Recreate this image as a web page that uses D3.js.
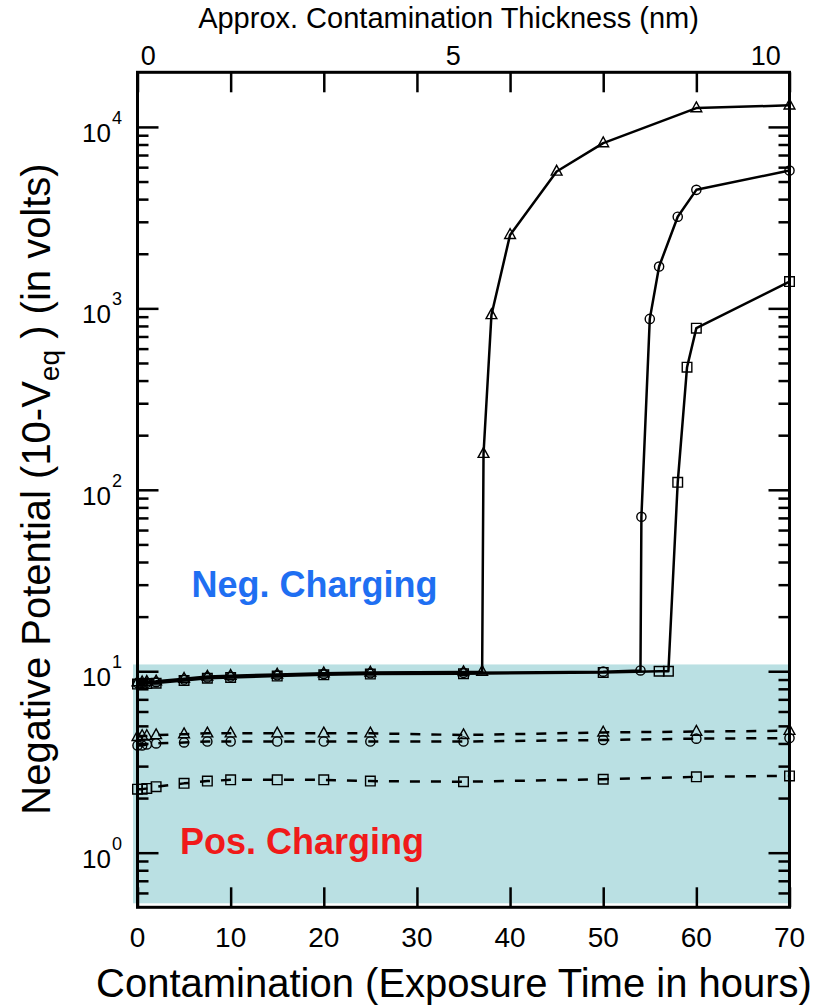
<!DOCTYPE html>
<html><head><meta charset="utf-8">
<script src="https://cdn.jsdelivr.net/npm/d3@7"></script>
<style>
body{margin:0;background:#fff;}
svg{display:block;font-family:"Liberation Sans",Arial,Helvetica,sans-serif;}
</style>
</head><body>
<svg id="chart" width="823" height="1007"></svg>
<script>
// ---------------- data ----------------
const xTickValues = [0, 10, 20, 30, 40, 50, 60, 70];
const xTickLabels = ["0", "10", "20", "30", "40", "50", "60", "70"];
const yMajorValues = [1, 10, 100, 1000, 10000];
const yMajorExponents = ["0", "1", "2", "3", "4"];
const topTickValues = [0, 5, 10];
const topTickLabels = ["0", "5", "10"];

// solid series (exposure time in hours, 10-Veq in volts)
const triHours = [0, 0.5, 1, 2, 5, 7.5, 10, 15, 20, 25, 35, 37, 37.15, 38, 40, 45, 50, 60, 70];
const triVolts = [8.7, 8.7, 8.75, 8.8, 9.1, 9.35, 9.45, 9.6, 9.75, 9.85, 9.9, 9.95, 158, 919, 2540, 5680, 8140, 12700, 13150];
const cirHours = [0, 0.5, 1, 2, 5, 7.5, 10, 15, 20, 25, 35, 50, 54, 54.1, 55, 56, 58, 60, 70];
const cirVolts = [8.6, 8.6, 8.65, 8.7, 9.0, 9.25, 9.35, 9.5, 9.65, 9.75, 9.8, 9.95, 10.1, 71, 875, 1700, 3200, 4500, 5750];
const sqrHours = [0, 0.5, 1, 2, 5, 7.5, 10, 15, 20, 25, 35, 50, 56, 57, 58, 59, 60, 70];
const sqrVolts = [8.5, 8.5, 8.55, 8.6, 8.9, 9.15, 9.25, 9.4, 9.55, 9.65, 9.7, 9.85, 10.0, 10.0, 110, 474, 778, 1405];

// dashed series
const dashHours = [0, 0.5, 1, 2, 5, 7.5, 10, 15, 20, 25, 35, 50, 60, 70];
const triDashVolts = [4.35, 4.4, 4.4, 4.45, 4.5, 4.55, 4.55, 4.55, 4.55, 4.55, 4.45, 4.6, 4.65, 4.7];
const cirDashVolts = [3.9, 3.9, 3.95, 4.0, 4.05, 4.1, 4.1, 4.1, 4.1, 4.1, 4.1, 4.18, 4.25, 4.28];
const sqrDashVolts = [2.24, 2.24, 2.26, 2.31, 2.41, 2.48, 2.52, 2.52, 2.52, 2.48, 2.46, 2.54, 2.62, 2.65];

const shadeTopVolts = 10.9;

// ---------------- chart ----------------
const svg = d3.select("#chart");
const x = d3.scaleLinear().domain([0, 70]).range([137.5, 789.5]);
const y = d3.scaleLog().domain([0.5, 20000]).range([907.3, 72.3]);
const nm = d3.scaleLinear().domain([0, 10]).range([x(0.35), x(65.85)]);

// shaded positive-charging region
svg.append("rect")
  .attr("x", x(0) - 4.5)
  .attr("y", y(shadeTopVolts))
  .attr("width", x(70) - x(0) + 4)
  .attr("height", (y.range()[0] - 4) - y(shadeTopVolts))
  .attr("fill", "#bae0e3");

const zip = (a, b) => a.map((v, i) => [v, b[i]]);
const line = d3.line().x(d => x(d[0])).y(d => y(d[1]));

const triPath = "M0,-6.2L5.4,3.6L-5.4,3.6Z";
const sqrPath = "M-4.8,-4.8H4.8V4.8H-4.8Z";

function drawSeries(data, dashed, shape) {
  svg.append("path")
    .datum(data)
    .attr("d", line)
    .attr("fill", "none")
    .attr("stroke", "#000")
    .attr("stroke-width", 2.5)
    .attr("stroke-linejoin", "round")
    .attr("stroke-dasharray", dashed ? "10,11" : null);
  const g = svg.append("g");
  data.forEach(d => {
    if (shape === "circle") {
      g.append("circle").attr("cx", x(d[0])).attr("cy", y(d[1])).attr("r", 4.6)
        .attr("fill", "none").attr("stroke", "#000").attr("stroke-width", 1.4);
    } else {
      g.append("path").attr("d", shape === "tri" ? triPath : sqrPath)
        .attr("transform", `translate(${x(d[0])},${y(d[1])})`)
        .attr("fill", "none").attr("stroke", "#000").attr("stroke-width", 1.4);
    }
  });
}

drawSeries(zip(dashHours, sqrDashVolts), true, "sqr");
drawSeries(zip(dashHours, cirDashVolts), true, "circle");
drawSeries(zip(dashHours, triDashVolts), true, "tri");
drawSeries(zip(sqrHours, sqrVolts), false, "sqr");
drawSeries(zip(cirHours, cirVolts), false, "circle");
drawSeries(zip(triHours, triVolts), false, "tri");

// axes ticks (inward)
const [yb, yt] = y.range();
const [xl, xr] = x.range();
const minorY = y.ticks().filter(v => !yMajorValues.includes(v) && v > 0.5 && v < 20000);

function styleAxis(g) {
  g.select(".domain").remove();
  g.selectAll(".tick line").attr("stroke", "#000").attr("stroke-width", 2.5);
  g.selectAll(".tick text").remove();
}

svg.append("g").attr("transform", `translate(0,${yb})`)
  .call(d3.axisBottom(x).tickValues(xTickValues).tickSize(-20)).call(styleAxis);
svg.append("g").attr("transform", `translate(0,${yt})`)
  .call(d3.axisTop(x).tickValues(xTickValues).tickSize(-20)).call(styleAxis);
svg.append("g").attr("transform", `translate(${xl},0)`)
  .call(d3.axisLeft(y).tickValues(yMajorValues).tickSize(-21)).call(styleAxis);
svg.append("g").attr("transform", `translate(${xl},0)`)
  .call(d3.axisLeft(y).tickValues(minorY).tickSize(-11)).call(styleAxis);
svg.append("g").attr("transform", `translate(${xr},0)`)
  .call(d3.axisRight(y).tickValues(yMajorValues).tickSize(-21)).call(styleAxis);
svg.append("g").attr("transform", `translate(${xr},0)`)
  .call(d3.axisRight(y).tickValues(minorY).tickSize(-11)).call(styleAxis);

// frame
svg.append("rect")
  .attr("x", xl).attr("y", yt).attr("width", xr - xl).attr("height", yb - yt)
  .attr("fill", "none").attr("stroke", "#000").attr("stroke-width", 3);

// tick labels
svg.append("g").selectAll("text").data(xTickValues).join("text")
  .attr("x", d => x(d)).attr("y", 946.5)
  .attr("text-anchor", "middle").attr("font-size", 28)
  .text((d, i) => xTickLabels[i]);

svg.append("g").selectAll("text").data(topTickValues).join("text")
  .attr("x", d => nm(d)).attr("y", 65)
  .attr("text-anchor", "start").attr("font-size", 27)
  .text((d, i) => topTickLabels[i]);

const yl = svg.append("g");
yMajorValues.forEach((v, i) => {
  yl.append("text").attr("x", 111).attr("y", y(v) + 15)
    .attr("text-anchor", "end").attr("font-size", 26).text("10");
  yl.append("text").attr("x", 112).attr("y", y(v) - 3)
    .attr("text-anchor", "start").attr("font-size", 18).text(yMajorExponents[i]);
});

// titles
svg.append("text").attr("x", 448.5).attr("y", 28)
  .attr("text-anchor", "middle").attr("font-size", 29)
  .text("Approx. Contamination Thickness (nm)");

svg.append("text").attr("x", 454).attr("y", 997)
  .attr("text-anchor", "middle").attr("font-size", 40)
  .text("Contamination (Exposure Time in hours)");

const yt2 = svg.append("text")
  .attr("transform", "translate(50,489) rotate(-90)")
  .attr("text-anchor", "middle").attr("font-size", 40);
yt2.append("tspan").text("Negative Potential (10-V");
yt2.append("tspan").attr("font-size", 28).attr("dy", 9).text("eq");
yt2.append("tspan").attr("dy", -9).text(" ) (in volts)");

// annotations
svg.append("text").attr("x", 314.5).attr("y", 597)
  .attr("text-anchor", "middle").attr("font-size", 36).attr("font-weight", "bold")
  .attr("fill", "#1f6ff2").text("Neg. Charging");
svg.append("text").attr("x", 302).attr("y", 854)
  .attr("text-anchor", "middle").attr("font-size", 36).attr("font-weight", "bold")
  .attr("fill", "#f01a1a").text("Pos. Charging");
</script>
</body></html>
